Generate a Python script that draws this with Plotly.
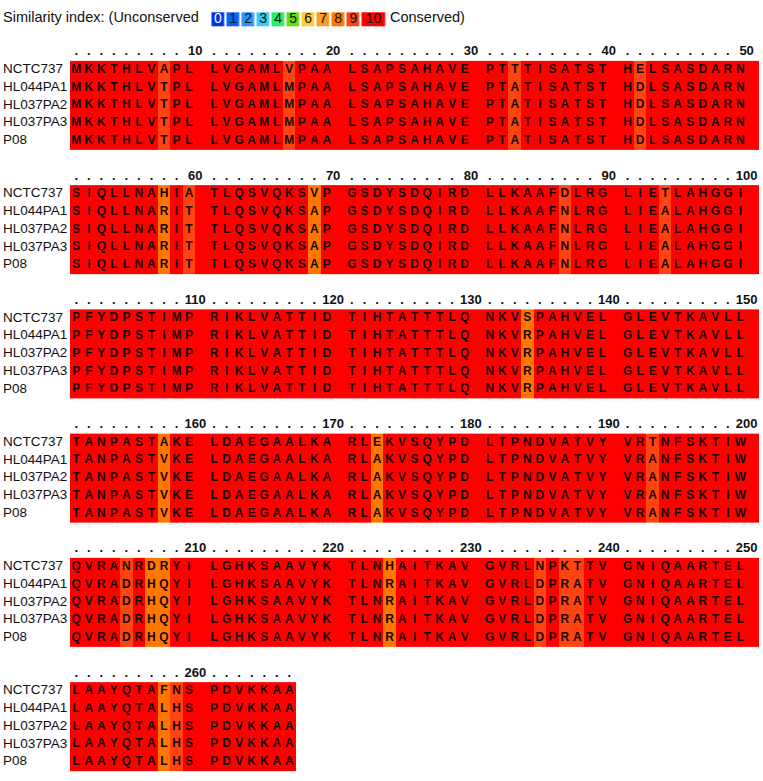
import plotly.graph_objects as go

# sequence names, top to bottom
names = ["NCTC737", "HL044PA1", "HL037PA2", "HL037PA3", "P08"]

seq_nctc737 = "".join([
    "MKKTHLVAPL", "LVGAMLVPAA", "LSAPSAHAVE", "PTTTISATST", "HELSASDARN",
    "SIQLLNAHIA", "TLQSVQKSVP", "GSDYSDQIRD", "LLKAAFDLRG", "LIETLAHGGI",
    "PFYDPSTIMP", "RIKLVATTID", "TIHTATTTLQ", "NKVSPAHVEL", "GLEVTKAVLL",
    "TANPASTAKE", "LDAEGAALKA", "RLEKVSQYPD", "LTPNDVATVY", "VRTNFSKTIW",
    "QVRANRDRYI", "LGHKSAAVYK", "TLNHAITKAV", "GVRLNPKTTV", "GNIQAARTEL",
    "LAAYQTAFNS", "PDVKKAA",
])
seq_hl044pa1 = "".join([
    "MKKTHLVTPL", "LVGAMLMPAA", "LSAPSAHAVE", "PTATISATST", "HDLSASDARN",
    "SIQLLNARIT", "TLQSVQKSAP", "GSDYSDQIRD", "LLKAAFNLRG", "LIEALAHGGI",
    "PFYDPSTIMP", "RIKLVATTID", "TIHTATTTLQ", "NKVRPAHVEL", "GLEVTKAVLL",
    "TANPASTVKE", "LDAEGAALKA", "RLAKVSQYPD", "LTPNDVATVY", "VRANFSKTIW",
    "QVRADRHQYI", "LGHKSAAVYK", "TLNRAITKAV", "GVRLDPRATV", "GNIQAARTEL",
    "LAAYQTALHS", "PDVKKAA",
])
seq_hl037pa2 = seq_hl044pa1
seq_hl037pa3 = seq_hl044pa1
seq_p08 = seq_hl044pa1
sequences = [seq_nctc737, seq_hl044pa1, seq_hl037pa2, seq_hl037pa3, seq_p08]

# similarity index per column (every column not listed is 10)
similarity = {
    8: 9, 17: 9, 33: 9, 42: 9, 58: 8, 60: 9, 69: 8, 87: 9, 94: 9,
    134: 8, 158: 8, 173: 8, 193: 9, 205: 9, 207: 8, 208: 8, 224: 8,
    235: 9, 237: 9, 238: 9, 258: 8, 259: 9,
}

legend_scores = list(range(11))
index_colors = ["#0033e6", "#0066ff", "#2f95ff", "#33ccff", "#22ee66", "#66dd11",
                "#ffcc33", "#ff9a22", "#ff7700", "#ff4411", "#ff0000"]

# layout constants (page pixels)
W, H = 763, 781
X0 = 70.0          # left edge of the alignment
CW = 12.53         # width of one column
RH = 17.75         # row height
Y0 = 52.0          # centre of first ruler line
BLOCK = 50

colorscale = []
for k, c in enumerate(index_colors):
    colorscale.append([k / 11, c])
    colorscale.append([(k + 1) / 11, c])

fig = go.Figure()

res_x, res_y, res_t = [], [], []
dot_x, dot_y = [], []
num_x, num_y, num_t = [], [], []
name_y = []

n_total = len(seq_nctc737)
for b in range(0, (n_total + BLOCK - 1) // BLOCK):
    start = b * BLOCK
    end = min(start + BLOCK, n_total)
    ruler_y = Y0 + b * 7 * RH
    # columns of this block: residues plus a spacer after every 10
    cols = []
    for p in range(start, end):
        if p > start and (p - start) % 10 == 0:
            cols.append(None)
        cols.append(p)
    if (end - start) % 10 == 0:
        cols.append(None)
    edges = [X0 + i * CW for i in range(len(cols) + 1)]
    yedges = [ruler_y + RH * 0.5 + r * RH for r in range(len(names) + 1)]
    z = []
    for r in range(len(names)):
        z.append([10 if c is None else similarity.get(c + 1, 10) for c in cols])
    fig.add_trace(go.Heatmap(
        x=edges, y=yedges, z=z, colorscale=colorscale, zmin=-0.5, zmax=10.5,
        showscale=False, hoverinfo="skip"))
    for i, c in enumerate(cols):
        if c is None:
            continue
        cx = X0 + (i + 0.5) * CW
        for r, s in enumerate(sequences):
            res_x.append(cx)
            res_y.append(ruler_y + (r + 1) * RH)
            res_t.append(s[c])
        if (c + 1) % 10 == 0:
            num_x.append(cx + CW * 0.5)
            num_y.append(ruler_y)
            num_t.append(str(c + 1))
        else:
            dot_x.append(cx)
            dot_y.append(ruler_y)
    for r in range(len(names)):
        name_y.append(ruler_y + (r + 1) * RH)

bold = dict(family="Liberation Sans, Arial", size=12, color="#1a0505", weight="bold")

fig.add_trace(go.Scatter(x=res_x, y=res_y, text=res_t, mode="text",
                         textfont=bold, hoverinfo="skip"))
fig.add_trace(go.Scatter(x=dot_x, y=dot_y, text=["."] * len(dot_x), mode="text",
                         textfont=dict(bold, color="#111111", size=13), hoverinfo="skip"))
fig.add_trace(go.Scatter(x=num_x, y=num_y, text=num_t, mode="text",
                         textfont=dict(bold, color="#111111", size=13), hoverinfo="skip"))
fig.add_trace(go.Scatter(x=[3] * len(name_y), y=name_y,
                         text=names * (len(name_y) // len(names)),
                         mode="text", textposition="middle right", cliponaxis=False,
                         textfont=dict(family="Liberation Sans, Arial", size=13.5, color="#111111"),
                         hoverinfo="skip"))

# similarity index legend
lx = [210.5 + 15.03 * k for k in range(11)] + [386.0]
fig.add_trace(go.Heatmap(
    x=lx, y=[12.3, 25.8], z=[legend_scores], colorscale=colorscale, zmin=-0.5, zmax=10.5,
    xgap=2.3, showscale=False, hoverinfo="skip"))
fig.add_trace(go.Scatter(
    x=[(lx[k] + lx[k + 1] - 2.3) / 2 + 1.15 for k in range(11)], y=[19.5] * 11,
    text=[str(s) for s in legend_scores], mode="text",
    textfont=dict(family="Liberation Sans, Arial", size=14,
                  color=["#ffffff"] + ["#111111"] * 10),
    hoverinfo="skip"))
fig.add_trace(go.Scatter(
    x=[3, 390], y=[18.5, 18.5], text=["Similarity index: (Unconserved", "Conserved)"],
    mode="text", textposition="middle right", cliponaxis=False,
    textfont=dict(family="Liberation Sans, Arial", size=14.5, color="#111111"),
    hoverinfo="skip"))

fig.update_layout(
    width=W, height=H, margin=dict(l=0, r=0, t=0, b=0),
    paper_bgcolor="white", plot_bgcolor="white", showlegend=False,
    xaxis=dict(range=[0, W], visible=False, fixedrange=True),
    yaxis=dict(range=[H, 0], visible=False, fixedrange=True),
)

# drop the default page margin so the figure fills the window exactly
fig.write_html("out.html", config={"displayModeBar": False},
               post_script="document.body.style.margin='0';document.body.style.overflow='hidden';")
